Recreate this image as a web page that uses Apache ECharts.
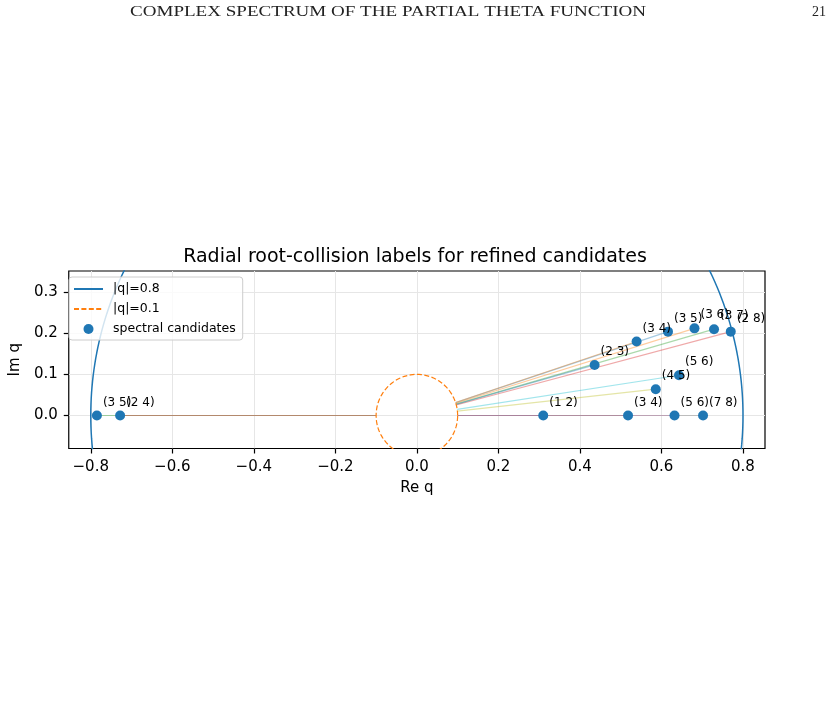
<!DOCTYPE html>
<html>
<head>
<meta charset="utf-8">
<script src="https://cdn.jsdelivr.net/npm/echarts@6/dist/echarts.min.js"></script>
<style>
html,body{margin:0;padding:0;background:#fff;}
#chart{width:837px;height:701px;}
</style>
</head>
<body>
<div id="chart"></div>
<script>
// ---- data ----
const reVals = [0.616, 0.681, 0.729, 0.770, 0.310, 0.518, 0.632, 0.702, 0.586, 0.643, 0.436, 0.539, -0.785, -0.728];
const imVals = [0.204, 0.212, 0.210, 0.204, 0.000, 0.000, 0.000, 0.000, 0.064, 0.098, 0.123, 0.180, 0.000, 0.000];
const pairLabels = ['(3 5)', '(3 6)', '(3 7)', '(2 8)', '(1 2)', '(3 4)', '(5 6)', '(7 8)', '(4 5)', '(5 6)', '(2 3)', '(3 4)', '(3 5)', '(2 4)'];
const circleRadii = [0.8, 0.1];
const circleNames = ['|q|=0.8', '|q|=0.1'];
const xTicks = [-0.8, -0.6, -0.4, -0.2, 0.0, 0.2, 0.4, 0.6, 0.8];
const yTicks = [0.0, 0.1, 0.2, 0.3];
const tab10 = ['#1f77b4', '#ff7f0e', '#2ca02c', '#d62728', '#9467bd', '#8c564b', '#e377c2', '#7f7f7f', '#bcbd22', '#17becf'];
const headerText = 'COMPLEX SPECTRUM OF THE PARTIAL THETA FUNCTION';
const pageNumber = '21';

const FONT = 'DejaVu Sans';
const fmt = v => {
  const s = Number(v).toFixed(1);
  return s.replace('-', '\u2212');
};

function circlePts(r) {
  const pts = [];
  for (let a = 0; a <= 360; a += 1) {
    const t = a * Math.PI / 180;
    pts.push([r * Math.cos(t), r * Math.sin(t)]);
  }
  return pts;
}

const series = [];
const rInner = circleRadii[1];
reVals.forEach((x, i) => {
  const y = imVals[i];
  const m = Math.hypot(x, y);
  series.push({
    type: 'line',
    name: 'ray' + i,
    data: [[rInner * x / m, rInner * y / m], [x, y]],
    symbol: 'none',
    silent: true,
    z: 2,
    lineStyle: { color: tab10[i % 10], width: 1.2, opacity: 0.4 },
    animation: false
  });
});
series.push({
  type: 'line', name: circleNames[0], data: circlePts(circleRadii[0]),
  symbol: 'none', z: 3, clip: true,
  lineStyle: { color: '#1f77b4', width: 1.5 }, itemStyle: { color: '#1f77b4' },
  animation: false
});
series.push({
  type: 'line', name: circleNames[1], data: circlePts(circleRadii[1]),
  symbol: 'none', z: 3, clip: true,
  lineStyle: { color: '#ff7f0e', width: 1.2, type: [5, 2.4] }, itemStyle: { color: '#ff7f0e' },
  animation: false
});
series.push({
  type: 'scatter', name: 'spectral candidates',
  data: reVals.map((x, i) => ({ value: [x, imVals[i]], label: { formatter: pairLabels[i] } })),
  symbol: 'circle', symbolSize: 10, z: 5,
  itemStyle: { color: '#1f77b4', opacity: 1 },
  label: {
    show: true, position: [11, -8], align: 'left', verticalAlign: 'middle',
    fontFamily: FONT, fontSize: 12, color: '#000'
  },
  animation: false
});

const option = {
  backgroundColor: '#fff',
  animation: false,
  title: {
    text: 'Radial root-collision labels for refined candidates',
    left: 410, top: 243, textAlign: 'center',
    textStyle: { fontFamily: FONT, fontSize: 19, fontWeight: 'normal', color: '#000' }
  },
  graphic: [
    {
      type: 'text', left: 130, top: 5, scaleX: 1.36,
      style: { text: headerText, fontFamily: 'Liberation Serif', fontSize: 14, fill: '#222' }
    },
    {
      type: 'text', left: 812, top: 5,
      style: { text: pageNumber, fontFamily: 'Liberation Serif', fontSize: 14, fill: '#222' }
    }
  ],
  legend: {
    data: [
      { name: circleNames[0], itemStyle: { opacity: 0 } },
      { name: circleNames[1], itemStyle: { opacity: 0 } },
      { name: 'spectral candidates', icon: 'circle' }
    ],
    orient: 'vertical', left: 69, top: 277,
    itemWidth: 29, itemHeight: 10, itemGap: 6,
    padding: [5, 7, 4, 4],
    backgroundColor: 'rgba(255,255,255,0.8)',
    borderColor: '#cccccc', borderWidth: 1, borderRadius: 3,
    textStyle: { fontFamily: FONT, fontSize: 12.5, color: '#000', lineHeight: 14, padding: [0, 0, 0, 5] }
  },
  grid: {
    left: 64, right: 72, top: 271, bottom: 252.5,
    show: true, borderColor: '#000', borderWidth: 1.2, backgroundColor: 'transparent'
  },
  xAxis: {
    type: 'value', min: -0.854, max: 0.854,
    name: 'Re q', nameLocation: 'middle', nameGap: 32,
    nameTextStyle: { fontFamily: FONT, fontSize: 15, color: '#000' },
    axisLine: { show: false, onZero: false },
    axisTick: { show: true, inside: false, length: 5, lineStyle: { color: '#000', width: 1.2 }, customValues: xTicks },
    axisLabel: { fontFamily: FONT, fontSize: 15, color: '#000', margin: 11, formatter: fmt, customValues: xTicks },
    splitLine: { show: true, lineStyle: { color: '#e6e6e6', width: 1 } }
  },
  yAxis: {
    type: 'value', min: -0.0803, max: 0.3516,
    name: 'Im q', nameLocation: 'middle', nameGap: 43, nameRotate: 90,
    nameTextStyle: { fontFamily: FONT, fontSize: 15, color: '#000' },
    axisLine: { show: false, onZero: false },
    axisTick: { show: true, inside: false, length: 5, lineStyle: { color: '#000', width: 1.2 }, customValues: yTicks },
    axisLabel: { fontFamily: FONT, fontSize: 15, color: '#000', margin: 11, formatter: fmt, customValues: yTicks },
    splitLine: { show: true, lineStyle: { color: '#e6e6e6', width: 1 } }
  },
  series: series
};

const chart = echarts.init(document.getElementById('chart'), null, { renderer: 'canvas' });
chart.setOption(option);
</script>
</body>
</html>
